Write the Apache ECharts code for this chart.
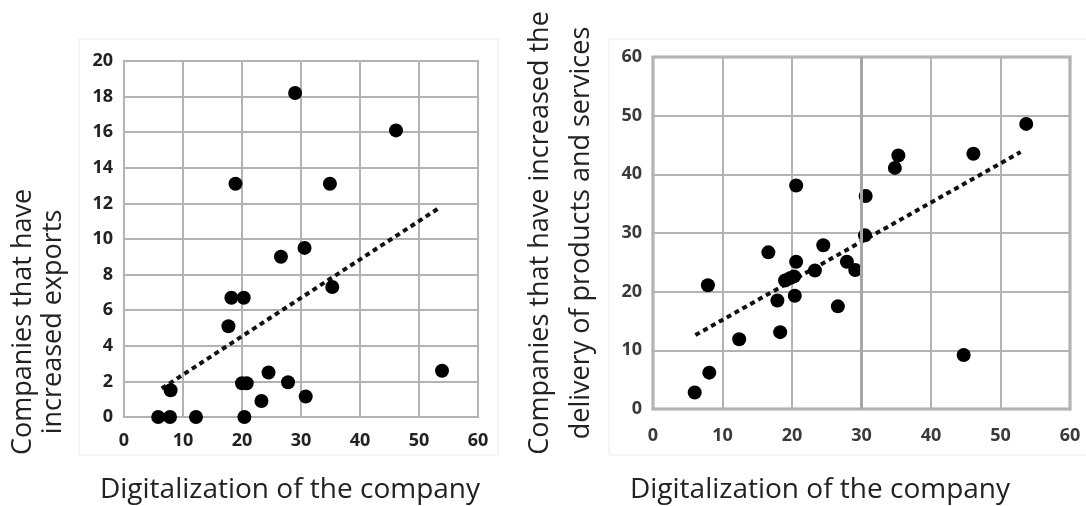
<!DOCTYPE html>
<html>
<head>
<meta charset="utf-8">
<script src="https://cdn.jsdelivr.net/npm/echarts@6/dist/echarts.min.js"></script>
<style>
  html, body { margin: 0; padding: 0; background: #fff; }
  #chart { width: 1086px; height: 506px; }
</style>
</head>
<body>
<div id="chart"></div>
<script>
// left panel: exports vs digitalization
var exportsPoints = [
  [5.8, 0], [7.8, 0], [12.2, 0], [20.4, 0], [7.9, 1.5],
  [17.7, 5.1], [18.2, 6.7], [20.3, 6.7], [18.9, 13.1], [29.0, 18.2],
  [46.1, 16.1], [34.9, 13.1], [26.6, 9.0], [30.6, 9.5], [35.3, 7.3],
  [20.0, 1.9], [20.8, 1.9], [24.5, 2.5], [27.8, 1.95], [23.3, 0.9],
  [30.8, 1.15], [53.9, 2.6]
];
var exportsTrend = [[6.4, 1.6], [53.2, 11.7]];

// right panel: delivery vs digitalization
var deliveryPoints = [
  [6.0, 2.8], [8.1, 6.2], [7.9, 21.1], [12.4, 11.9], [16.6, 26.7],
  [17.9, 18.5], [18.3, 13.1], [19.0, 21.9], [19.7, 22.3], [20.3, 22.6],
  [20.4, 19.3], [20.6, 25.1], [20.6, 38.1], [23.3, 23.6], [24.5, 27.9],
  [26.6, 17.5], [27.9, 25.1], [29.1, 23.7], [30.5, 29.6], [30.6, 36.3],
  [34.8, 41.1], [35.3, 43.2], [46.1, 43.5], [53.7, 48.6], [44.7, 9.2]
];
var deliveryTrend = [[6.1, 12.6], [52.9, 43.8]];

var xTitle = 'Digitalization of the company';
var leftYTitle = 'Companies that have\nincreased exports';
var rightYTitle = 'Companies that have increased the\ndelivery of products and services';

var myChart = echarts.init(document.getElementById('chart'));

function tickLabel(color, margin) {
  return {
    margin: margin,
    fontFamily: 'Open Sans',
    fontWeight: 'bold',
    fontSize: 18,
    color: color
  };
}

function title(text, x, y, rot, size, lh) {
  return {
    type: 'text', x: x, y: y, rotation: rot,
    style: { text: text, fontFamily: 'Open Sans', fontSize: size, lineHeight: lh,
      fill: '#222', align: 'center', verticalAlign: 'middle' }
  };
}

var gridLine = { lineStyle: { color: '#b3b3b3', width: 2 } };

myChart.setOption({
  animation: false,
  graphic: [
    { type: 'rect', shape: { x: 79, y: 39, width: 419, height: 416 },
      style: { fill: 'none', stroke: '#ececec', lineWidth: 1 } },
    { type: 'rect', shape: { x: 609, y: 39, width: 480, height: 416 },
      style: { fill: 'none', stroke: '#ececec', lineWidth: 1 } },
    // titles are not centred on the plots in the original, so place them by hand
    title(leftYTitle, 38, 322, Math.PI / 2, 27, 30),
    title(xTitle, 290, 490, 0, 28, 34),
    title(xTitle, 820, 490, 0, 28, 34)
  ],
  grid: [
    { left: 124, top: 61, width: 354, height: 356, containLabel: false,
      outerBoundsMode: 'none', show: true, borderColor: '#ababab', borderWidth: 2 },
    { left: 653, top: 57, width: 417, height: 352, containLabel: false,
      outerBoundsMode: 'none', show: true, borderColor: '#a6a6a6', borderWidth: 3 }
  ],
  xAxis: [
    { gridIndex: 0, type: 'value', min: 0, max: 60, interval: 10,
      axisLine: { show: false }, axisTick: { show: false },
      axisLabel: tickLabel('#222', 15), splitLine: gridLine },
    { gridIndex: 1, type: 'value', min: 0, max: 60, interval: 10,
      axisLine: { show: false }, axisTick: { show: false },
      axisLabel: tickLabel('#3a3a3a', 18), splitLine: gridLine }
  ],
  yAxis: [
    { gridIndex: 0, type: 'value', min: 0, max: 20, interval: 2,
      axisLine: { show: false }, axisTick: { show: false },
      axisLabel: tickLabel('#222', 11), splitLine: gridLine },
    { gridIndex: 1, type: 'value', min: 0, max: 60, interval: 10,
      name: rightYTitle, nameLocation: 'middle', nameRotate: 90, nameGap: 51,
      nameTextStyle: { fontFamily: 'Open Sans', fontSize: 27, lineHeight: 41, color: '#222' },
      axisLine: { show: false }, axisTick: { show: false },
      axisLabel: tickLabel('#3a3a3a', 11), splitLine: gridLine }
  ],
  series: [
    { type: 'line', xAxisIndex: 0, yAxisIndex: 0, data: exportsTrend,
      symbol: 'none', lineStyle: { color: '#111', width: 4, type: [5, 4] }, z: 3 },
    { type: 'scatter', xAxisIndex: 0, yAxisIndex: 0, data: exportsPoints,
      symbolSize: 14, itemStyle: { color: '#000', opacity: 1 }, z: 4 },
    { type: 'line', xAxisIndex: 1, yAxisIndex: 1, data: deliveryTrend,
      symbol: 'none', lineStyle: { color: '#111', width: 4, type: [5, 4] }, z: 3,
      markLine: {
        silent: true, symbol: 'none', label: { show: false },
        lineStyle: { color: '#a6a6a6', width: 3, type: 'solid' },
        data: [{ xAxis: 30 }]
      } },
    { type: 'scatter', xAxisIndex: 1, yAxisIndex: 1, data: deliveryPoints,
      symbolSize: 14, itemStyle: { color: '#000', opacity: 1 }, z: 4 }
  ]
});
</script>
</body>
</html>
